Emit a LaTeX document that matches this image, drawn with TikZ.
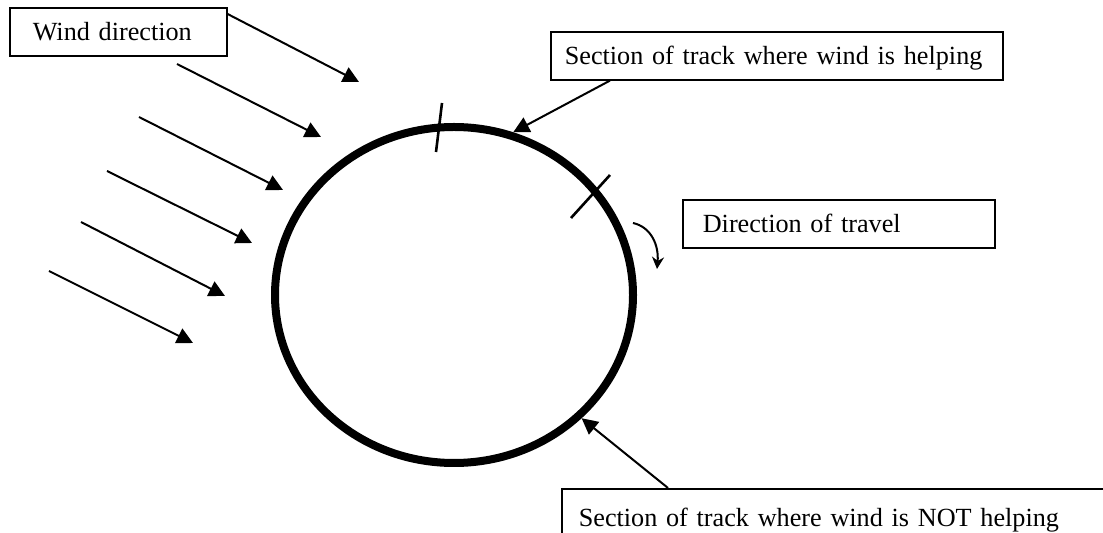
\documentclass[tikz,border=0pt]{standalone}
\usepackage{fontspec}
\setmainfont{Liberation Serif}
\usetikzlibrary{arrows.meta,shapes.geometric}
\begin{document}
\begin{tikzpicture}[x=0.5pt,y=-0.5pt,
  every node/.style={font=\fontsize{13.1}{15}\selectfont},
  labelbox/.style={draw,line width=0.8pt,anchor=north west,align=left,text height=9pt,text depth=0pt,inner ysep=0pt},
  windarrow/.style={line width=1pt,-{Triangle[length=8pt,width=8pt]}},
  pointer/.style={line width=1pt,-{Triangle[length=8pt,width=8pt]}}]
\clip (0,0) rectangle (1103,533);
% the track
\node[draw,ellipse,line width=4pt,inner sep=0pt,minimum width=179pt,minimum height=168pt] (track) at (454,295) {};
\draw[line width=1.3pt] (442,103) -- (436,152);
\draw[line width=1.3pt] (610,175) -- (571,218);
% labels
\node[labelbox,minimum height=24pt,inner xsep=11.5pt,text width=85.5pt] (windbox) at (9,7) {Wind direction};
\node[labelbox,minimum height=24pt,inner xsep=7pt,text width=212pt] (helpbox) at (550,31) {Section of track where wind is helping};
\node[labelbox,minimum height=24pt,inner xsep=10pt,text width=136pt] (dirbox) at (682,199) {Direction of travel};
\node[labelbox,minimum height=29pt,inner xsep=8.5pt,text width=263pt] (notbox) at (561,488) {Section of track where wind is NOT helping};
% wind arrows
\coordinate (w0) at (359,82);
\draw[windarrow] ([yshift=-3.5pt]windbox.north east) -- (w0);
\foreach \sx/\sy/\ex/\ey [count=\i] in {177/64/321/137,139/117/283/190,107/171/252/243,81/222/225/296,49/271/193/343} {
  \coordinate (w\i a) at (\sx,\sy);
  \coordinate (w\i b) at (\ex,\ey);
  \draw[windarrow] (w\i a) -- (w\i b);
}
% pointers to the track
\draw[pointer] ([xshift=30pt]helpbox.south west) -- (track.70);
\draw[pointer] ([xshift=53.5pt]notbox.north west) -- (track.-44);
% direction of travel
\coordinate (cw1) at (633,223);
\coordinate (cw2) at (657,269);
\draw[line width=1pt,-{Stealth[length=6pt,width=6pt]}] (cw1) .. controls (651,227) and (659,245) .. (cw2);
\end{tikzpicture}
\end{document}
